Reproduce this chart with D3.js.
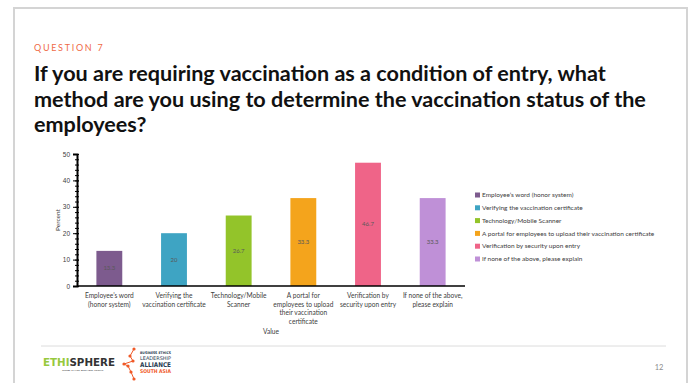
<!DOCTYPE html>
<html>
  <head>
    <meta charset="utf-8">
    <title>Question 7</title>
    <script src="https://cdn.jsdelivr.net/npm/d3@7"></script>
    <style>
      body { margin: 0; background: #ffffff; }
      svg { display: block; font-family: Lato, "Open Sans", sans-serif; }
      .axis path, .axis line { stroke: #000; }
      .tick text { fill: #404040; font-size: 6.5px; }
    </style>
  </head>
  <body>
    <svg id="chart" width="694" height="383"></svg>

    <script>
      // data
      categories = [
        "Employee's word (honor system)",
        "Verifying the vaccination certificate",
        "Technology/Mobile Scanner",
        "A portal for employees to upload their vaccination certificate",
        "Verification by security upon entry",
        "If none of the above, please explain"
      ];
      axisLabels = [
        ["Employee\u2019s word", "(honor system)"],
        ["Verifying the", "vaccination certificate"],
        ["Technology/Mobile", "Scanner"],
        ["A portal for", "employees to upload", "their vaccination", "certificate"],
        ["Verification by", "security upon entry"],
        ["If none of the above,", "please explain"]
      ];
      legendLabels = [
        "Employee\u2019s word (honor system)",
        "Verifying the vaccination certificate",
        "Technology/Mobile Scanner",
        "A portal for employees to upload their vaccination certificate",
        "Verification by security upon entry",
        "If none of the above, please explain"
      ];
      values = [13.3, 20, 26.7, 33.3, 46.7, 33.3];
      colours = ["#7d5b8e", "#3ea4c3", "#93c42a", "#f4a41c", "#ef6488", "#bf90d7"];
      yTicks = [0, 10, 20, 30, 40, 50];

      chart = d3.select("#chart");

      // slide frame
      chart.append("rect")
        .attr("x", 14).attr("y", 8)
        .attr("width", 673).attr("height", 390)
        .attr("fill", "#fff")
        .attr("stroke", "#d4d4d4")
        .attr("stroke-width", 2);

      chart.append("text")
        .attr("x", 34).attr("y", 51)
        .attr("fill", "#ef6a47")
        .attr("font-size", 9)
        .attr("letter-spacing", 1.7)
        .text("QUESTION 7");

      title = [
        "If you are requiring vaccination as a condition of entry, what",
        "method are you using to determine the vaccination status of the",
        "employees?"
      ];
      chart.append("g")
        .selectAll("text")
          .data(title)
        .enter().append("text")
          .attr("x", 34)
          .attr("y", function(d, i) { return 81 + i * 25.5; })
          .attr("font-size", 21.6)
          .attr("font-weight", "bold")
          .attr("fill", "#111")
          .text(function(d) { return d; });

      // chart
      margin = { top: 154, left: 77, bottom: 286, right: 465 };
      x = d3.scaleBand()
        .domain(categories)
        .range([margin.left, margin.right])
        .paddingInner(0.6)
        .paddingOuter(0.3);
      y = d3.scaleLinear()
        .domain([0, 50])
        .range([margin.bottom, margin.top]);

      chartGroup = chart.append("g");
      chartGroup.selectAll(".bar")
          .data(values)
        .enter().append("rect")
          .attr("class", "bar")
          .attr("x", function(d, i) { return x(categories[i]); })
          .attr("y", function(d) { return y(d); })
          .attr("width", x.bandwidth())
          .attr("height", function(d) { return y(0) - y(d); })
          .attr("fill", function(d, i) { return colours[i]; });

      chartGroup.selectAll(".val")
          .data(values)
        .enter().append("text")
          .attr("class", "val")
          .attr("x", function(d, i) { return x(categories[i]) + x.bandwidth() / 2; })
          .attr("y", function(d) { return (y(d) + y(0)) / 2 + 2; })
          .attr("text-anchor", "middle")
          .attr("font-size", 6)
          .attr("fill", "#595959")
          .text(function(d) { return d; });

      // y axis with minor ticks
      yMinor = d3.axisLeft(y)
        .ticks(25)
        .tickSize(3)
        .tickFormat("");
      chart.append("g")
        .attr("class", "axis")
        .attr("transform", "translate(" + margin.left + ",0)")
        .call(yMinor)
        .call(function(g) { g.select(".domain").remove(); })
        .selectAll("line").attr("x2", 2).attr("x1", -2);

      yAxis = d3.axisLeft(y)
        .tickValues(yTicks)
        .tickSizeOuter(0)
        .tickSize(4)
        .tickPadding(3);
      yAxisGroup = chart.append("g")
        .attr("class", "axis")
        .attr("transform", "translate(" + margin.left + ",0)")
        .call(yAxis);
      yAxisGroup.select(".domain").attr("stroke-width", 2);
      yAxisGroup.selectAll(".tick line").attr("x1", 2);

      chart.append("text")
        .attr("transform", "translate(60," + ((margin.top + margin.bottom) / 2) + ") rotate(-90)")
        .attr("text-anchor", "middle")
        .attr("font-size", 6.5)
        .attr("fill", "#404040")
        .text("Percent");

      // x axis
      chart.append("line")
        .attr("x1", margin.left).attr("x2", margin.right)
        .attr("y1", y(0)).attr("y2", y(0))
        .attr("stroke", "#000")
        .attr("stroke-width", 1.5);

      xLabels = chart.append("g")
        .selectAll("text")
          .data(axisLabels)
        .enter().append("text")
          .attr("x", function(d, i) { return x(categories[i]) + x.bandwidth() / 2; })
          .attr("y", 298)
          .attr("text-anchor", "middle")
          .attr("font-size", 6.6)
          .attr("fill", "#404040");
      xLabels.selectAll("tspan")
          .data(function(d) { return d; })
        .enter().append("tspan")
          .attr("x", function() { return d3.select(this.parentNode).attr("x"); })
          .attr("dy", function(d, i) { return i ? 8.7 : 0; })
          .text(function(d) { return d; });

      chart.append("text")
        .attr("x", (margin.left + margin.right) / 2)
        .attr("y", 334)
        .attr("text-anchor", "middle")
        .attr("font-size", 6.6)
        .attr("fill", "#404040")
        .text("Value");

      // legend
      legend = chart.append("g")
        .selectAll("g")
          .data(legendLabels)
        .enter().append("g")
          .attr("transform", function(d, i) { return "translate(475," + (195 + i * 12.8) + ")"; });
      legend.append("rect")
        .attr("x", 0).attr("y", -2.5)
        .attr("width", 5).attr("height", 5)
        .attr("fill", function(d, i) { return colours[i]; });
      legend.append("text")
        .attr("x", 7).attr("y", 2.2)
        .attr("font-size", 6.5)
        .attr("fill", "#404040")
        .text(function(d) { return d; });

      // footer
      chart.append("line")
        .attr("x1", 41).attr("x2", 666)
        .attr("y1", 346).attr("y2", 346)
        .attr("stroke", "#dcdcdc");

      eth = chart.append("text")
        .attr("x", 43).attr("y", 366)
        .attr("font-size", 11)
        .attr("font-weight", "bold")
        .attr("font-family", "'DejaVu Sans Condensed', sans-serif")
        .attr("textLength", 72)
        .attr("lengthAdjust", "spacingAndGlyphs");
      eth.append("tspan").attr("fill", "#97c93d").text("ETHI");
      eth.append("tspan").attr("fill", "#333").text("SPHERE");
      chart.append("text")
        .attr("x", 62).attr("y", 370.5)
        .attr("font-size", 2.6)
        .attr("fill", "#333")
        .text("GOOD. SMART. BUSINESS. PROFIT.");

      nodes = [[134, 349], [130, 356], [133, 361], [124, 364], [128, 366], [131, 372], [134, 379]];
      chart.append("path")
        .attr("d", d3.line()(nodes))
        .attr("fill", "none")
        .attr("stroke", "#f05a28")
        .attr("stroke-width", 1);
      chart.selectAll(".node")
          .data(nodes)
        .enter().append("circle")
          .attr("class", "node")
          .attr("cx", function(d) { return d[0]; })
          .attr("cy", function(d) { return d[1]; })
          .attr("r", 1.6)
          .attr("fill", "#f05a28");

      alliance = [
        ["BUSINESS ETHICS", 3.6, "#2b3f55", 354, "bold"],
        ["LEADERSHIP", 5, "#2b3f55", 360, "normal"],
        ["ALLIANCE", 6.5, "#2b3f55", 367, "bold"],
        ["SOUTH ASIA", 5, "#f05a28", 373, "bold"]
      ];
      chart.append("g")
        .selectAll("text")
          .data(alliance)
        .enter().append("text")
          .attr("x", 140)
          .attr("y", function(d) { return d[3]; })
          .attr("font-size", function(d) { return d[1]; })
          .attr("font-weight", function(d) { return d[4]; })
          .attr("fill", function(d) { return d[2]; })
          .attr("font-family", "'DejaVu Sans Condensed', sans-serif")
          .attr("textLength", 31)
          .attr("lengthAdjust", "spacingAndGlyphs")
          .text(function(d) { return d[0]; });

      chart.append("text")
        .attr("x", 659).attr("y", 370)
        .attr("text-anchor", "middle")
        .attr("font-size", 7.5)
        .attr("fill", "#8c8c8c")
        .text("12");
    </script>
  </body>
</html>
